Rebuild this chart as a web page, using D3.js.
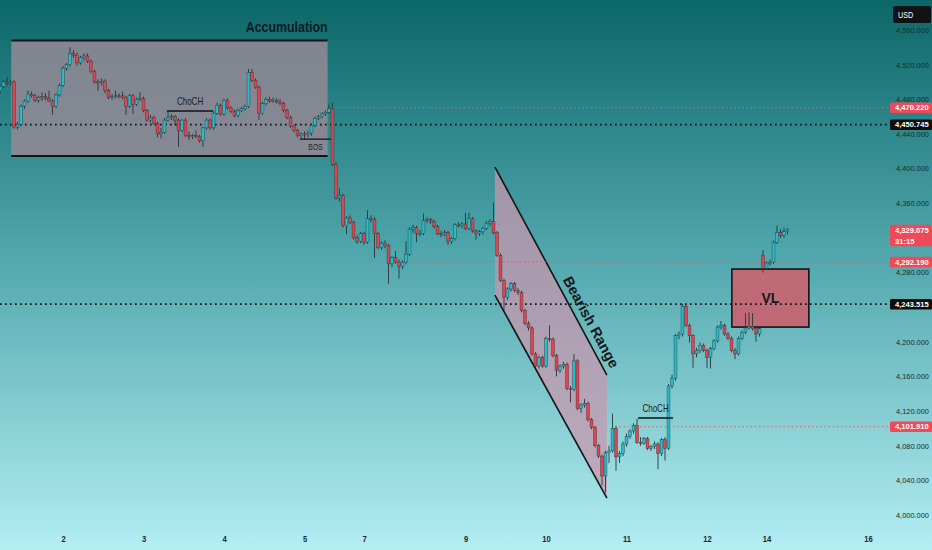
<!DOCTYPE html>
<html>
<head>
<meta charset="utf-8">
<script src="https://cdn.jsdelivr.net/npm/d3@7"></script>
<style>
  html, body { margin: 0; padding: 0; }
  body { width: 932px; height: 550px; overflow: hidden; }
  svg text { font-family: "Liberation Sans", Arial, sans-serif; }
</style>
</head>
<body>
<div id="chart"></div>
<script>
// 1H candles, index 0 = first bar on the left
const opens = [
  4490,4495,4500,4499,4500,4448,4451,4472,4478,4486,
  4484,4479,4482,4483,4481,4478,4472,4485,4496,4516,
  4520,4533,4531,4522,4528,4530,4524,4512,4500,4499,
  4501,4490,4482,4483,4484,4484,4482,4472,4484,4474,
  4480,4481,4467,4456,4459,4452,4440,4442,4456,4459,
  4460,4456,4444,4456,4438,4437,4438,4437,4432,4447,
  4456,4447,4464,4473,4463,4479,4470,4466,4461,4467,
  4469,4472,4511,4502,4494,4464,4475,4480,4478,4479,
  4477,4475,4467,4459,4449,4444,4438,4440,4439,4441,
  4450,4458,4460,4463,4465,4469,4405,4366,4369,4334,
  4343,4338,4320,4316,4325,4315,4342,4341,4325,4309,
  4314,4311,4290,4297,4292,4287,4292,4301,4330,4332,
  4325,4325,4340,4341,4339,4333,4325,4324,4326,4316,
  4319,4335,4334,4336,4331,4342,4328,4325,4327,4331,
  4337,4339,4326,4300,4271,4251,4261,4267,4259,4257,
  4236,4221,4216,4186,4172,4182,4172,4204,4203,4184,
  4167,4172,4174,4146,4145,4178,4123,4127,4129,4110,
  4101,4080,4068,4045,4072,4074,4100,4067,4071,4082,
  4091,4097,4103,4084,4083,4088,4077,4079,4082,4071,
  4087,4077,4149,4158,4207,4209,4241,4219,4207,4186,
  4190,4196,4190,4182,4192,4201,4217,4219,4209,4204,
  4190,4186,4204,4211,4216,4218,4215,4209,4300,4285,
  4291,4292,4315,4326,4323,4327
];
const highs = [
  4497,4502,4506,4503,4502,4454,4474,4480,4490,4489,
  4486,4484,4488,4487,4490,4480,4487,4498,4518,4522,
  4540,4537,4534,4530,4533,4533,4526,4514,4503,4504,
  4503,4492,4486,4490,4487,4489,4484,4486,4486,4482,
  4488,4483,4469,4462,4461,4454,4447,4458,4466,4463,
  4462,4458,4457,4458,4443,4440,4444,4439,4448,4458,
  4458,4466,4476,4475,4481,4481,4472,4468,4469,4471,
  4474,4515,4515,4504,4496,4477,4482,4483,4482,4481,
  4480,4477,4469,4461,4451,4446,4442,4443,4444,4452,
  4460,4462,4465,4467,4474,4476,4407,4377,4371,4345,
  4346,4340,4323,4327,4327,4352,4346,4344,4327,4316,
  4317,4313,4299,4305,4295,4294,4316,4332,4335,4334,
  4329,4348,4344,4343,4341,4335,4328,4329,4328,4321,
  4337,4338,4338,4349,4349,4344,4330,4329,4333,4339,
  4342,4361,4328,4302,4273,4263,4269,4269,4262,4259,
  4238,4224,4218,4188,4184,4184,4206,4219,4205,4186,
  4174,4177,4176,4149,4186,4180,4129,4134,4131,4112,
  4103,4082,4070,4074,4080,4117,4103,4074,4085,4094,
  4099,4106,4111,4090,4090,4090,4081,4085,4084,4089,
  4090,4151,4162,4209,4212,4244,4243,4221,4209,4193,
  4199,4198,4192,4194,4203,4219,4224,4221,4211,4206,
  4193,4206,4213,4233,4234,4233,4217,4218,4306,4293,
  4295,4317,4334,4330,4332,4331
];
const lows = [
  4487,4493,4496,4496,4446,4445,4449,4469,4476,4482,
  4477,4476,4478,4479,4477,4462,4470,4483,4494,4513,
  4518,4528,4519,4520,4525,4522,4510,4498,4490,4496,
  4487,4480,4479,4481,4481,4480,4462,4470,4463,4472,
  4478,4465,4454,4453,4450,4436,4435,4440,4454,4456,
  4450,4425,4442,4436,4433,4434,4435,4430,4425,4445,
  4445,4445,4462,4461,4461,4468,4464,4459,4459,4465,
  4467,4470,4500,4492,4456,4462,4473,4476,4476,4475,
  4473,4465,4457,4447,4442,4436,4435,4434,4436,4438,
  4448,4456,4458,4461,4463,4403,4364,4362,4332,4324,
  4336,4318,4313,4314,4312,4313,4338,4297,4307,4306,
  4308,4267,4286,4290,4273,4284,4290,4299,4326,4315,
  4322,4323,4337,4336,4331,4323,4321,4322,4312,4313,
  4317,4332,4331,4329,4329,4326,4318,4322,4324,4329,
  4334,4324,4298,4269,4236,4248,4258,4257,4254,4234,
  4219,4213,4184,4170,4169,4170,4170,4200,4182,4160,
  4164,4169,4144,4130,4143,4121,4118,4124,4108,4099,
  4078,4066,4034,4026,4060,4072,4051,4060,4068,4079,
  4088,4094,4082,4080,4081,4075,4074,4076,4053,4068,
  4063,4075,4146,4155,4203,4206,4217,4199,4170,4182,
  4187,4188,4170,4169,4190,4199,4214,4207,4202,4188,
  4180,4184,4202,4209,4214,4213,4200,4206,4280,4283,
  4288,4290,4313,4320,4320,4324
];
const closes = [
  4495,4500,4499,4500,4448,4451,4472,4478,4486,4484,
  4479,4482,4483,4481,4478,4472,4485,4496,4516,4520,
  4533,4531,4522,4528,4530,4524,4512,4500,4499,4501,
  4490,4482,4483,4484,4483,4482,4472,4484,4474,4480,
  4481,4467,4456,4459,4452,4440,4442,4456,4459,4460,
  4456,4444,4456,4438,4437,4438,4437,4432,4447,4456,
  4447,4464,4473,4463,4479,4470,4466,4461,4467,4469,
  4472,4511,4502,4494,4464,4475,4480,4478,4479,4477,
  4475,4467,4459,4449,4444,4438,4440,4439,4441,4450,
  4458,4460,4463,4465,4469,4405,4366,4369,4334,4343,
  4338,4320,4316,4325,4315,4342,4341,4325,4309,4314,
  4311,4290,4297,4292,4287,4292,4301,4330,4332,4325,
  4325,4340,4341,4339,4333,4325,4324,4326,4316,4319,
  4335,4334,4336,4331,4342,4328,4325,4327,4331,4337,
  4339,4326,4300,4271,4251,4261,4267,4259,4257,4236,
  4221,4216,4186,4172,4182,4172,4204,4203,4184,4167,
  4172,4174,4146,4145,4178,4123,4127,4129,4110,4101,
  4080,4068,4045,4072,4074,4100,4067,4071,4082,4091,
  4097,4103,4084,4083,4088,4077,4079,4082,4071,4087,
  4077,4149,4158,4207,4209,4241,4219,4207,4186,4190,
  4196,4190,4182,4192,4201,4217,4219,4209,4204,4190,
  4186,4204,4211,4216,4218,4215,4209,4215,4285,4291,
  4292,4315,4326,4323,4327,4329.075
];

const dayLabels = ["2", "3", "4", "5", "7", "9", "10", "11", "12", "14", "16"];
const dayIndex  = [18, 41, 64, 87, 104, 133, 156, 179, 202, 219, 248];
// 4,240 and 4,320 sit under the price tags, so the scale leaves them out
const priceTicks = [4000, 4040, 4080, 4120, 4160, 4200, 4280,
                    4360, 4400, 4440, 4480, 4520, 4560];

const blackLevels = [4450.745, 4243.515];
const redLevels = [4470.22, 4292.19, 4101.91];
const redLevelFrom = [95, 115.7, 177];   // bar index where each line starts
const lastPrice = 4329.075;
const countdown = "31:15";

// zones: [fromIndex, toIndex, topPrice, bottomPrice]
const accumBox = [3.2, 93.6, 4548, 4414.5];
const vlBox = [209.1, 231.1, 4284, 4217];
// bearish channel: [index, price] ends of the two rails
const bearTop = [[141.4, 4401.8], [173.4, 4161.6]];
const bearBottom = [[141.4, 4254], [173.4, 4019.6]];
// structure marks: [fromIndex, toIndex, price]
const chochA = [47.7, 60.9, 4466.5];
const chochB = [182.3, 192.3, 4112];
const bos = [85.7, 94.6, 4434];

const NARROW = 0.8;   // no condensed face installed, squeeze the regular one

class CandleChart {
  constructor(config) {
    this.config = {
      parent: config.parent,
      width: config.width || 932,
      height: config.height || 550,
      plotRight: config.plotRight || 888
    };
    this.init();
  }

  init() {
    const c = this.config;

    this.svg = d3.select(c.parent)
      .append("svg")
      .attr("width", c.width)
      .attr("height", c.height);

    // teal background
    const grad = this.svg.append("defs")
      .append("linearGradient")
      .attr("id", "bg")
      .attr("x1", 0).attr("y1", 0).attr("x2", 0).attr("y2", 1);
    grad.append("stop").attr("offset", "0%").attr("stop-color", "#0c6769");
    grad.append("stop").attr("offset", "45%").attr("stop-color", "#4ea5aa");
    grad.append("stop").attr("offset", "100%").attr("stop-color", "#b3eef3");

    this.svg.append("rect")
      .attr("width", c.width)
      .attr("height", c.height)
      .attr("fill", "url(#bg)");

    this.xscale = d3.scaleLinear().domain([0, 248]).range([0, 868]);
    this.yscale = d3.scaleLinear().domain([4000, 4560]).range([515, 30]);

    this.zones = this.svg.append("g");
    this.levels = this.svg.append("g");
    this.chart = this.svg.append("g");
    this.marks = this.svg.append("g");
    this.xaxis = this.svg.append("g").attr("transform", "translate(0, 539)");
    this.yaxis = this.svg.append("g").attr("transform", `translate(${c.plotRight}, 0)`);
    this.tags = this.svg.append("g");
  }

  update() {
    this.data = opens.map((o, i) => ({
      i: i, o: o, h: highs[i], l: lows[i], c: closes[i]
    }));
    this.render();
  }

  // condensed text placed at (x, y)
  label(g, x, y, str) {
    return g.append("text")
      .attr("transform", `translate(${x}, ${y}) scale(${NARROW}, 1)`)
      .text(str);
  }

  render() {
    const x = this.xscale, y = this.yscale;
    const right = this.config.plotRight;
    const ink = "#111416";

    // accumulation zone
    this.zones.append("rect")
      .attr("x", x(accumBox[0]))
      .attr("y", y(accumBox[2]))
      .attr("width", x(accumBox[1]) - x(accumBox[0]))
      .attr("height", y(accumBox[3]) - y(accumBox[2]))
      .attr("fill", "#918994")
      .attr("fill-opacity", 0.88);
    [accumBox[2], accumBox[3]].forEach(p => {
      this.zones.append("line")
        .attr("x1", x(accumBox[0])).attr("x2", x(accumBox[1]))
        .attr("y1", y(p)).attr("y2", y(p))
        .attr("stroke", ink).attr("stroke-width", 2);
    });

    // bearish channel
    const poly = [bearTop[0], bearTop[1], bearBottom[1], bearBottom[0]]
      .map(d => [x(d[0]), y(d[1])]);
    this.zones.append("path")
      .attr("d", d3.line()(poly) + "Z")
      .attr("fill", "#c996ad")
      .attr("fill-opacity", 0.72);
    [bearTop, bearBottom].forEach(r => {
      this.zones.append("line")
        .attr("x1", x(r[0][0])).attr("y1", y(r[0][1]))
        .attr("x2", x(r[1][0])).attr("y2", y(r[1][1]))
        .attr("stroke", ink).attr("stroke-width", 1.6);
    });

    // VL zone
    this.zones.append("rect")
      .attr("x", x(vlBox[0]))
      .attr("y", y(vlBox[2]))
      .attr("width", x(vlBox[1]) - x(vlBox[0]))
      .attr("height", y(vlBox[3]) - y(vlBox[2]))
      .attr("fill", "#c8646f")
      .attr("fill-opacity", 0.92)
      .attr("stroke", ink)
      .attr("stroke-width", 1.6);

    // horizontal levels
    blackLevels.forEach(p => {
      this.levels.append("line")
        .attr("x1", 0).attr("x2", right)
        .attr("y1", y(p)).attr("y2", y(p))
        .attr("stroke", ink).attr("stroke-width", 1.7)
        .attr("stroke-dasharray", "1.7,3.3");
    });
    redLevels.forEach((p, k) => {
      this.levels.append("line")
        .attr("x1", x(redLevelFrom[k])).attr("x2", right)
        .attr("y1", y(p)).attr("y2", y(p))
        .attr("stroke", "#e5606c").attr("stroke-width", 1.2)
        .attr("stroke-dasharray", "1.5,2.6");
    });

    // candles
    const bull = "#27bccb", bear = "#e3424f", edge = "#283336";
    const bw = 2.9;
    const bar = this.chart.selectAll("g.bar")
      .data(this.data)
      .join("g")
      .attr("class", "bar");
    bar.append("line")
      .attr("x1", d => x(d.i)).attr("x2", d => x(d.i))
      .attr("y1", d => y(d.h)).attr("y2", d => y(d.l))
      .attr("stroke", edge)
      .attr("stroke-width", 0.9);
    bar.append("rect")
      .attr("x", d => x(d.i) - bw / 2)
      .attr("width", bw)
      .attr("y", d => y(Math.max(d.o, d.c)))
      .attr("height", d => Math.max(1, Math.abs(y(d.o) - y(d.c))))
      .attr("fill", d => d.c >= d.o ? bull : bear)
      .attr("stroke", edge)
      .attr("stroke-width", 0.4);

    // structure marks
    const mark = (m, str, below) => {
      this.marks.append("line")
        .attr("x1", x(m[0])).attr("x2", x(m[1]))
        .attr("y1", y(m[2])).attr("y2", y(m[2]))
        .attr("stroke", ink).attr("stroke-width", 1.3);
      this.label(this.marks, (x(m[0]) + x(m[1])) / 2, y(m[2]) + (below ? 11 : -6), str)
        .attr("text-anchor", "middle")
        .attr("font-size", below ? "8.5px" : "10px")
        .attr("fill", "#1a1c1e");
    };
    mark(chochA, "ChoCH", false);
    mark(chochB, "ChoCH", false);
    mark(bos, "BOS", true);

    this.label(this.marks, x(accumBox[1]), y(accumBox[2]) - 8, "Accumulation")
      .attr("text-anchor", "end")
      .attr("font-size", "15.5px")
      .attr("font-weight", "bold")
      .attr("fill", "#0d1a24");

    const ang = Math.atan2(y(bearTop[1][1]) - y(bearTop[0][1]),
                           x(bearTop[1][0]) - x(bearTop[0][0])) * 180 / Math.PI;
    this.marks.append("text")
      .attr("transform", `translate(${x(168.9)}, ${y(4222.8)}) rotate(${ang})`)
      .attr("text-anchor", "middle")
      .attr("dy", "0.35em")
      .attr("font-size", "14.5px")
      .attr("font-weight", "bold")
      .attr("fill", "#14171a")
      .text("Bearish Range");

    this.marks.append("text")
      .attr("x", (x(vlBox[0]) + x(vlBox[1])) / 2)
      .attr("y", (y(vlBox[2]) + y(vlBox[3])) / 2)
      .attr("dy", "0.35em")
      .attr("text-anchor", "middle")
      .attr("font-size", "14px")
      .attr("font-weight", "bold")
      .attr("fill", "#14171a")
      .text("VL");

    // axes
    this.xaxis.call(d3.axisBottom(x)
      .tickValues(dayIndex)
      .tickFormat((d, i) => dayLabels[i])
      .tickSize(0));
    this.xaxis.select(".domain").remove();
    this.xaxis.selectAll("text")
      .attr("y", 0).attr("dy", "0.35em")
      .attr("font-size", "9.5px")
      .attr("font-weight", "bold")
      .attr("fill", "#1b2a30")
      .attr("transform", `scale(${NARROW}, 1)`);

    this.yaxis.call(d3.axisRight(y)
      .tickValues(priceTicks)
      .tickFormat(d3.format(",.3f"))
      .tickSize(0)
      .tickPadding(8));
    this.yaxis.select(".domain").remove();
    this.yaxis.selectAll("text")
      .attr("font-size", "7.4px")
      .attr("fill", "#1b2a30");

    // price tags on the scale
    const tag = (p, fill, lines) => {
      const h = lines.length * 11 - 0.5;
      this.tags.append("rect")
        .attr("x", right + 2).attr("y", y(p) - 5.2)
        .attr("width", 42).attr("height", h)
        .attr("rx", 1.5)
        .attr("fill", fill);
      lines.forEach((t, k) => {
        this.tags.append("text")
          .attr("x", right + 7).attr("y", y(p) + k * 11)
          .attr("dy", "0.35em")
          .attr("font-size", "7.6px")
          .attr("font-weight", "bold")
          .attr("fill", "#ffffff")
          .text(t);
      });
    };
    const fmt = d3.format(",.3f");
    redLevels.forEach(p => tag(p, "#ee4a5a", [fmt(p)]));
    blackLevels.forEach(p => tag(p, "#0b0c0d", [fmt(p)]));
    tag(lastPrice, "#ee4a5a", [fmt(lastPrice), countdown]);

    this.tags.append("rect")
      .attr("x", 893).attr("y", 6)
      .attr("width", 38).attr("height", 17)
      .attr("rx", 2)
      .attr("fill", "#111213");
    this.label(this.tags, 898, 14.5, "USD")
      .attr("dy", "0.35em")
      .attr("font-size", "9px")
      .attr("fill", "#ffffff");
  }
}

const chart = new CandleChart({ parent: "#chart" });
chart.update();
</script>
</body>
</html>
